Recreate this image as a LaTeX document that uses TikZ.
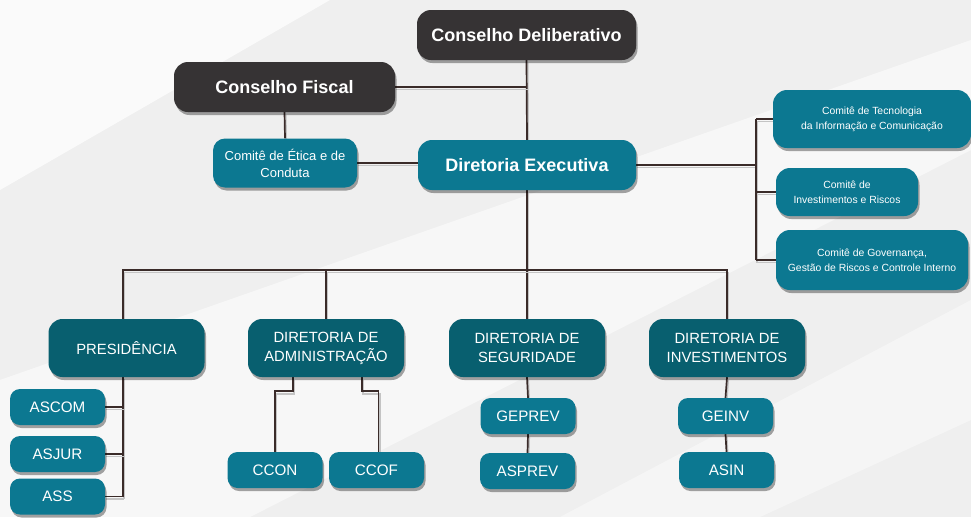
\documentclass[tikz,border=0pt]{standalone}
\usepackage{fontspec}
\setmainfont{Liberation Sans}
\usetikzlibrary{shadows,calc}
\pgfdeclarelayer{bg}
\pgfdeclarelayer{lines}
\pgfsetlayers{bg,lines,main}
\definecolor{bgc}{HTML}{EFEFEF}
\definecolor{darkc}{HTML}{363334}
\definecolor{tealc}{HTML}{0C7891}
\definecolor{deepc}{HTML}{085F6F}
\definecolor{linec}{HTML}{3A2B29}
\definecolor{shc}{HTML}{C4C4C4}
\tikzset{
  box/.style={rounded corners=14pt, inner sep=0pt, align=center, text=white,
    drop shadow={shadow xshift=1.5pt, shadow yshift=-3pt, opacity=0.35, fill=black}},
  darkbox/.style={box, fill=darkc, font=\fontsize{18}{21}\selectfont\bfseries},
  exbox/.style={box, fill=tealc, font=\fontsize{18}{21}\selectfont\bfseries},
  combox/.style={box, fill=tealc, font=\fontsize{10.4}{15}\selectfont},
  dirbox/.style={box, fill=deepc, minimum width=156pt, minimum height=58pt,
    font=\fontsize{14.8}{19}\selectfont},
  smallbox/.style={box, fill=tealc, rounded corners=10pt, minimum width=95pt,
    minimum height=36pt, font=\fontsize{15.2}{18}\selectfont},
  conn/.style={draw=linec, line width=1.7pt},
  connsh/.style={draw=shc, line width=1.7pt, transform canvas={shift={(1.2pt,-2.6pt)}}},
}
\newcommand\lnk[1]{\draw[connsh] #1; \draw[conn] #1;}
\begin{document}
\begin{tikzpicture}[x=1pt,y=-1pt]
\begin{pgfonlayer}{bg}
\fill[bgc] (0,0) rectangle (971,517);
\fill[white, opacity=0.7] (0,0) -- (330,0) -- (0,190) -- cycle;
\fill[white, opacity=0.55] (0,517) -- (0,380) -- (971,40) -- (971,150) -- (250,517) -- cycle;
\fill[white, opacity=0.4] (560,517) -- (971,300) -- (971,420) -- (760,517) -- cycle;
\end{pgfonlayer}
\useasboundingbox (0,0) rectangle (971,517);

% top
\node[darkbox, minimum width=219pt, minimum height=50pt] (cd) at (526.5,35) {Conselho Deliberativo};
\node[darkbox, minimum width=221pt, minimum height=50pt] (cf) at (284.5,87) {Conselho Fiscal};
\node[combox, rounded corners=12pt, minimum width=144pt, minimum height=49pt,
  font=\fontsize{13}{17}\selectfont] (et) at (285,163) {Comitê de Ética e de\\Conduta};
\node[exbox, minimum width=218pt, minimum height=50pt] (de) at (527,165) {Diretoria Executiva};

% committees
\node[combox, minimum width=198pt, minimum height=58pt] (ti) at (872,119) {Comitê de Tecnologia\\da Informação e Comunicação};
\node[combox, minimum width=142pt, minimum height=48pt] (ir) at (847,192) {Comitê de\\Investimentos e Riscos};
\node[combox, minimum width=192pt, minimum height=60pt] (go) at (872,260) {Comitê de Governança,\\Gestão de Riscos e Controle Interno};

% directorates
\node[dirbox] (pr) at (126.5,348) {PRESIDÊNCIA};
\node[dirbox] (ad) at (326,348) {DIRETORIA DE\\ADMINISTRAÇÃO};
\node[dirbox] (se) at (527,348) {DIRETORIA DE\\SEGURIDADE};
\node[dirbox] (in) at (727,348) {DIRETORIA DE\\INVESTIMENTOS};

% sub units
\node[smallbox] (ascom) at (57.5,407) {ASCOM};
\node[smallbox] (asjur) at (57.5,454) {ASJUR};
\node[smallbox] (ass) at (57.5,496.5) {ASS};
\node[smallbox] (ccon) at (275,470) {CCON};
\node[smallbox] (ccof) at (376.5,470) {CCOF};
\node[smallbox] (geprev) at (528,416) {GEPREV};
\node[smallbox] (asprev) at (527.5,471) {ASPREV};
\node[smallbox] (geinv) at (725.5,416) {GEINV};
\node[smallbox] (asin) at (726.5,470) {ASIN};

\coordinate (bus) at (527,270);
\coordinate (cx) at (756,165);
\coordinate (px) at (123,376);

\begin{pgfonlayer}{lines}
\lnk{(cd.south) -- (de.north)}
\lnk{(cf.east) -- (cf.east -| cd.south)}
\lnk{(cf.south) -- (et.north)}
\lnk{(et.east) -- (et.east -| de.west)}
\lnk{(de.east) -- (cx)}
\lnk{(cx |- ti.west) -- (cx |- go.west)}
\lnk{(cx |- ti.west) -- (ti.west)}
\lnk{(cx |- ir.west) -- (ir.west)}
\lnk{(cx |- go.west) -- (go.west)}
\lnk{(de.south) -- (se.north)}
\lnk{(px |- pr.north) -- (px |- bus) -- (in.north |- bus) -- (in.north)}
\lnk{(ad.north) -- (ad.north |- bus)}
\lnk{(px) -- (px |- ass.east)}
\lnk{(ascom.east) -- (px |- ascom.east)}
\lnk{(asjur.east) -- (px |- asjur.east)}
\lnk{(ass.east) -- (px |- ass.east)}
\lnk{($(ad.south)+(-33,0)$) -- ++(0,14) -| (ccon.north)}
\lnk{($(ad.south)+(36,0)$) -- ++(0,14) -| ($(ccof.north)+(2,0)$)}
\lnk{(se.south) -- (geprev.north)}
\lnk{(geprev.south) -- (asprev.north)}
\lnk{(in.south) -- (geinv.north)}
\lnk{(geinv.south) -- (asin.north)}
\end{pgfonlayer}
\end{tikzpicture}
\end{document}
